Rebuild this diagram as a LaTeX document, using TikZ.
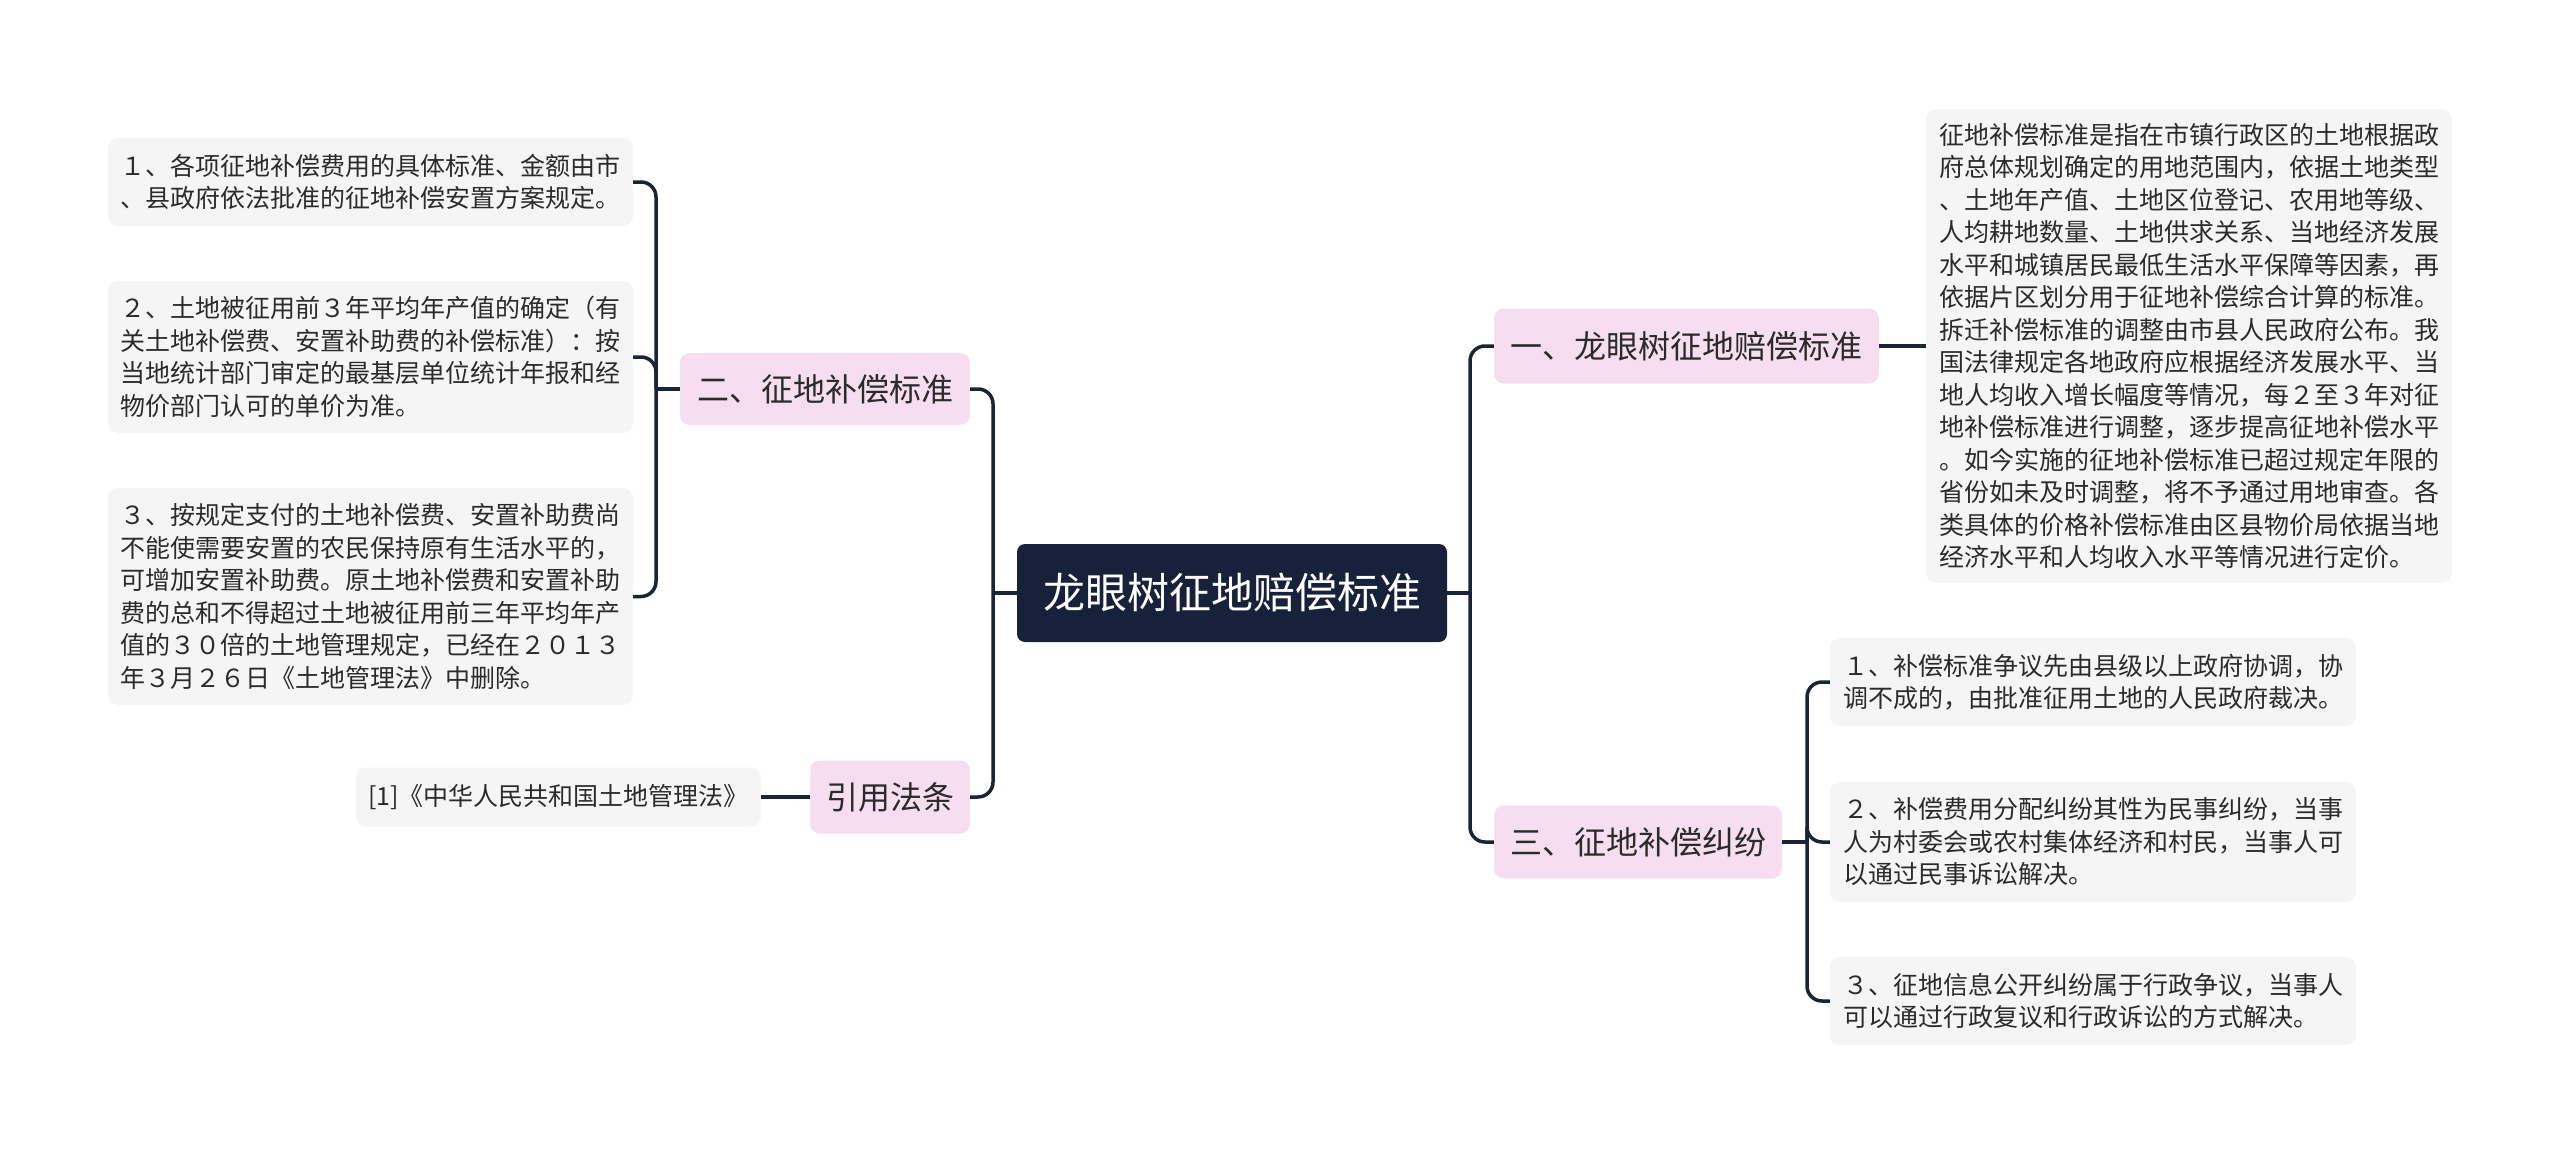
\documentclass[tikz,border=0pt]{standalone}
\usepackage{fontspec}
\setmainfont{Noto Sans CJK SC}
\definecolor{rootc}{HTML}{17223A}
\definecolor{pinkc}{HTML}{F6DDF0}
\definecolor{leafc}{HTML}{F5F5F5}
\definecolor{linec}{HTML}{1B2436}
\definecolor{txtc}{HTML}{2B2B2B}
\tikzset{
  rootbox/.style={fill=rootc, rounded corners=8pt, text=white, inner sep=0pt,
    font=\fontsize{42}{50}\selectfont},
  branchbox/.style={fill=pinkc, rounded corners=10pt, text=txtc, inner sep=0pt,
    font=\fontsize{32}{38}\selectfont},
  leafbox/.style={fill=leafc, rounded corners=10pt, text=txtc, inner sep=0pt,
    align=left, font=\fontsize{25}{32.5}\selectfont},
  conn/.style={draw=linec, line width=3.5pt},
  rconn/.style={conn, rounded corners=15pt}
}
\begin{document}
\begin{tikzpicture}[x=1pt,y=-1pt]
\useasboundingbox[fill=white] (0,0) rectangle (2560,1153);

% root
\node[rootbox, minimum width=430pt, minimum height=98pt] (root) at (1232,593) {龙眼树征地赔偿标准};

% branches
\node[branchbox, minimum width=385pt, minimum height=75pt] (b1) at (1686.5,346) {一、龙眼树征地赔偿标准};
\node[branchbox, minimum width=288pt, minimum height=73pt] (b3) at (1638,842) {三、征地补偿纠纷};
\node[branchbox, minimum width=290pt, minimum height=72pt] (b2) at (825,389) {二、征地补偿标准};
\node[branchbox, minimum width=160pt, minimum height=73pt] (b4) at (890,797) {引用法条};

% left leaves
\node[leafbox, minimum width=525pt, minimum height=88pt] (l1) at (370.5,182) {１、各项征地补偿费用的具体标准、金额由市\\、县政府依法批准的征地补偿安置方案规定。};
\node[leafbox, minimum width=525pt, minimum height=152pt] (l2) at (370.5,357) {２、土地被征用前３年平均年产值的确定（有\\关土地补偿费、安置补助费的补偿标准）：按\\当地统计部门审定的最基层单位统计年报和经\\物价部门认可的单价为准。};
\node[leafbox, minimum width=525pt, minimum height=217pt] (l3) at (370.5,596.5) {３、按规定支付的土地补偿费、安置补助费尚\\不能使需要安置的农民保持原有生活水平的，\\可增加安置补助费。原土地补偿费和安置补助\\费的总和不得超过土地被征用前三年平均年产\\值的３０倍的土地管理规定，已经在２０１３\\年３月２６日《土地管理法》中删除。};
\node[leafbox, minimum width=405pt, minimum height=59pt] (ref) at (558.5,797) {[1]《中华人民共和国土地管理法》};

% right leaves
\node[leafbox, minimum width=526pt, minimum height=473pt] (d1) at (2189,346) {征地补偿标准是指在市镇行政区的土地根据政\\府总体规划确定的用地范围内，依据土地类型\\、土地年产值、土地区位登记、农用地等级、\\人均耕地数量、土地供求关系、当地经济发展\\水平和城镇居民最低生活水平保障等因素，再\\依据片区划分用于征地补偿综合计算的标准。\\拆迁补偿标准的调整由市县人民政府公布。我\\国法律规定各地政府应根据经济发展水平、当\\地人均收入增长幅度等情况，每２至３年对征\\地补偿标准进行调整，逐步提高征地补偿水平\\。如今实施的征地补偿标准已超过规定年限的\\省份如未及时调整，将不予通过用地审查。各\\类具体的价格补偿标准由区县物价局依据当地\\经济水平和人均收入水平等情况进行定价。};
\node[leafbox, minimum width=526pt, minimum height=88pt] (r1) at (2093,682) {１、补偿标准争议先由县级以上政府协调，协\\调不成的，由批准征用土地的人民政府裁决。};
\node[leafbox, minimum width=526pt, minimum height=120pt] (r2) at (2093,842) {２、补偿费用分配纠纷其性为民事纠纷，当事\\人为村委会或农村集体经济和村民，当事人可\\以通过民事诉讼解决。};
\node[leafbox, minimum width=526pt, minimum height=88pt] (r3) at (2093,1001) {３、征地信息公开纠纷属于行政争议，当事人\\可以通过行政复议和行政诉讼的方式解决。};

% spine coordinates
\coordinate (ls) at (993,593);
\coordinate (rs) at (1470,593);
\coordinate (s2) at (656,389);
\coordinate (s3) at (1807,842);

% root connectors
\draw[conn] (root.west) -- (ls);
\draw[rconn] (ls) |- (b2.east);
\draw[rconn] (ls) |- (b4.east);
\draw[conn] (root.east) -- (rs);
\draw[rconn] (rs) |- (b1.west);
\draw[rconn] (rs) |- (b3.west);

% branch 2 leaves
\draw[conn] (b2.west) -- (s2);
\draw[rconn] (s2) |- (l1.east);
\draw[rconn] (s2) |- (l2.east);
\draw[rconn] (s2) |- (l3.east);

% branch 4 leaf
\draw[conn] (b4.west) -- (ref.east);

% branch 1 leaf
\draw[conn] (b1.east) -- (d1.west);

% branch 3 leaves
\draw[conn] (b3.east) -- (s3);
\draw[rconn] (s3) |- (r1.west);
\draw[rconn] (s3) |- (r2.west);
\draw[rconn] (s3) |- (r3.west);
\end{tikzpicture}
\end{document}
